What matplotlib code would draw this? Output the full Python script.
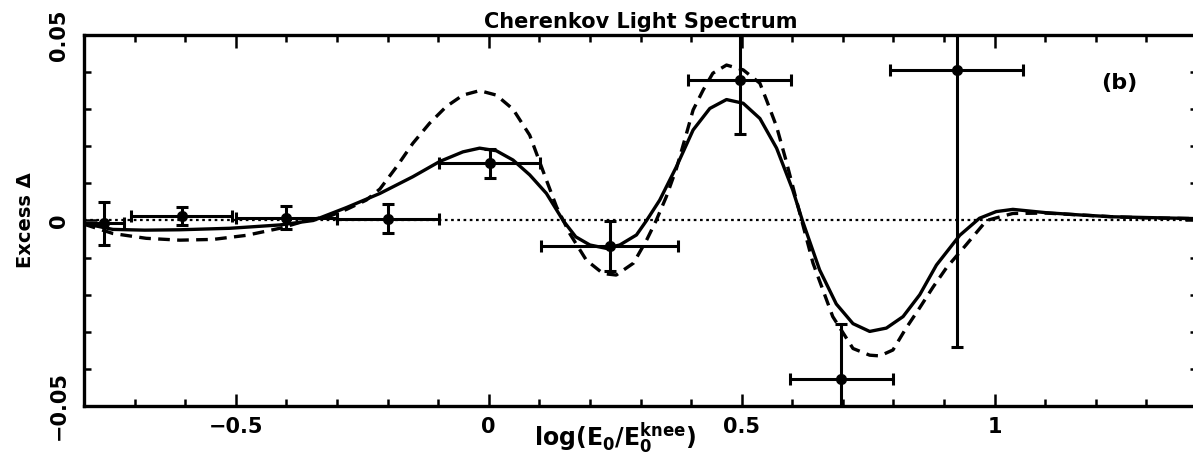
import matplotlib
matplotlib.use("Agg")
import matplotlib.pyplot as plt
from matplotlib.ticker import MultipleLocator

# measured points
pt_x = [-0.76, -0.607, -0.40, -0.199, 0.002, 0.239, 0.496, 0.697, 0.925]
pt_y = [-0.0008, 0.0012, 0.0008, 0.0005, 0.0154, -0.0069, 0.0379, -0.0428, 0.0406]
pt_yerr = [0.0058, 0.0025, 0.0030, 0.0040, 0.0040, 0.0068, 0.0146, 0.0150, 0.0748]
pt_xerr = [0.04, 0.10, 0.10, 0.10, 0.10, 0.135, 0.102, 0.102, 0.131]

# solid model curve
solid_x = [-0.80, -0.743, -0.68, -0.611, -0.512, -0.413, -0.347, -0.281, -0.215, -0.150,
           -0.097, -0.051, -0.018, 0.015, 0.048, 0.081, 0.114, 0.147, 0.172, 0.200,
           0.232, 0.259, 0.292, 0.312, 0.338, 0.371, 0.404, 0.437, 0.470, 0.503,
           0.536, 0.569, 0.601, 0.620, 0.654, 0.687, 0.720, 0.753, 0.786, 0.819,
           0.852, 0.885, 0.931, 0.970, 1.003, 1.036, 1.102, 1.168, 1.234, 1.300, 1.400]
solid_y = [-0.0008, -0.0024, -0.0026, -0.0025, -0.0021, -0.0012, 0.0000, 0.0035, 0.0073, 0.0118,
           0.0159, 0.0185, 0.0195, 0.0188, 0.0163, 0.0123, 0.0073, 0.0000, -0.0044, -0.0066,
           -0.0075, -0.0066, -0.0039, 0.0000, 0.0055, 0.0145, 0.0244, 0.0302, 0.0326, 0.0316,
           0.0275, 0.0195, 0.0082, 0.0000, -0.0133, -0.0225, -0.0278, -0.0299, -0.0290, -0.0259,
           -0.0200, -0.0120, -0.0040, 0.0006, 0.0024, 0.0030, 0.0021, 0.0015, 0.0010, 0.0008, 0.0005]

# dashed model curve
dash_x = [-0.80, -0.743, -0.677, -0.611, -0.545, -0.479, -0.413, -0.360, -0.314, -0.281,
          -0.242, -0.215, -0.182, -0.150, -0.117, -0.084, -0.051, -0.018, 0.015, 0.048,
          0.081, 0.114, 0.134, 0.160, 0.193, 0.226, 0.252, 0.286, 0.312, 0.331,
          0.351, 0.371, 0.391, 0.404, 0.424, 0.443, 0.470, 0.503, 0.536, 0.549,
          0.569, 0.588, 0.615, 0.641, 0.680, 0.720, 0.753, 0.773, 0.799, 0.825,
          0.852, 0.878, 0.905, 0.944, 0.984, 1.036, 1.102, 1.168, 1.234, 1.300, 1.400]
dash_y = [-0.0010, -0.0035, -0.0048, -0.0053, -0.0051, -0.0040, -0.0021, 0.0000, 0.0012, 0.0030,
          0.0055, 0.0085, 0.0145, 0.0208, 0.0262, 0.0307, 0.0338, 0.0350, 0.0338, 0.0300,
          0.0230, 0.0109, 0.0037, -0.0035, -0.0107, -0.0143, -0.0147, -0.0115, -0.0053, 0.0000,
          0.0064, 0.0140, 0.0235, 0.0298, 0.0352, 0.0397, 0.0419, 0.0406, 0.0370, 0.0325,
          0.0253, 0.0160, 0.0019, -0.0115, -0.0259, -0.0345, -0.0363, -0.0365, -0.0349, -0.0290,
          -0.0235, -0.0180, -0.0127, -0.0065, 0.0000, 0.0019, 0.0020, 0.0015, 0.0010, 0.0007, 0.0005]

plt.rcParams['font.family'] = ['DejaVu Sans']
plt.rcParams['font.weight'] = 'bold'

fig = plt.figure(figsize=(11.93, 4.54), dpi=100)
ax = fig.add_axes([84/1193, 1-406/454, 1113/1193, 371/454])

ax.axhline(0, color='black', lw=1.6, dashes=(1.2, 1.6))
ax.plot(solid_x, solid_y, color='black', lw=2.4, solid_joinstyle='round')
ax.plot(dash_x, dash_y, color='black', lw=2.4, dashes=(3.5, 2.2))
ax.errorbar(pt_x, pt_y, yerr=pt_yerr, xerr=pt_xerr, fmt='o', color='black',
            ms=7, elinewidth=2.2, capsize=4, capthick=2.2)

ax.set_xlim(-0.8, 1.4)
ax.set_ylim(-0.05, 0.05)
ax.xaxis.set_minor_locator(MultipleLocator(0.1))
ax.yaxis.set_minor_locator(MultipleLocator(0.01))
ax.set_xticks([-0.5, 0, 0.5, 1])
ax.set_xticklabels(['\u22120.5', '0', '0.5', '1'])
ax.set_yticks([-0.05, 0, 0.05])
ax.set_yticklabels(['\u22120.05', '0', '0.05'], rotation=90, va='center')
ax.tick_params(which='both', direction='in', top=True, right=True, width=1.8)
ax.tick_params(which='major', length=9, labelsize=15)
ax.tick_params(which='minor', length=5)
ax.tick_params(axis='y', pad=11)
ax.tick_params(axis='x', pad=8)
for s in ax.spines.values():
    s.set_linewidth(2.4)

ax.set_title('Cherenkov Light Spectrum', fontsize=15, fontweight='bold', pad=5)
ax.set_ylabel('Excess \u0394', fontsize=14, fontweight='bold', labelpad=10)
fig.text(615/1193, 1-438/454, r'log(E$_\mathbf{0}$/E$_\mathbf{0}^\mathbf{knee}$)',
         ha='center', va='center', fontsize=17, fontweight='bold')
ax.text(1.247, 0.037, '(b)', fontsize=16, fontweight='bold', ha='center', va='center')

fig.savefig('out.png', dpi=100)
